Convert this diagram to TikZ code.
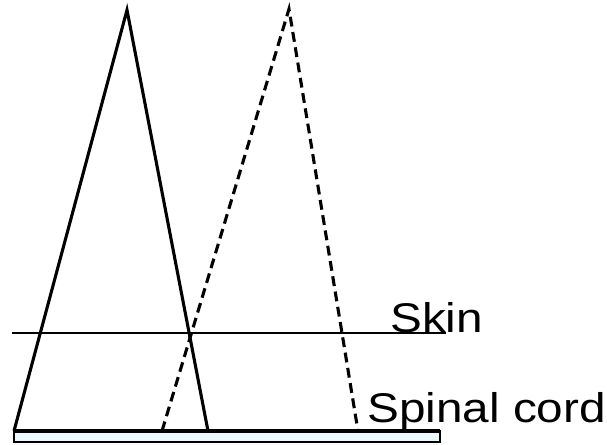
\documentclass[tikz,border=0pt]{standalone}
\usepackage{fontspec}
\setmainfont{Liberation Sans}
\usetikzlibrary{positioning}

\begin{document}
\begin{tikzpicture}[x=0.025cm,y=-0.025cm,
  leg/.style={line width=2.2pt,black},
  dleg/.style={leg,dash pattern=on 7pt off 4pt},
  lbl/.style={anchor=base west,inner sep=0pt,font=\fontsize{29.5}{34}\selectfont,xscale=1.15}]
  \useasboundingbox (0,0) rectangle (607,445);

  % spinal cord strip
  \filldraw[fill=cyan!8,draw=black,line width=1pt] (14,431) rectangle (440,442);
  \draw[line width=2.2pt] (14,431) -- (440,431);

  \coordinate (A) at (127,10);
  \coordinate (AL) at (14,431);
  \coordinate (AR) at (208,431);
  \coordinate (B) at (289,9);
  \coordinate (BL) at (162,431);
  \coordinate (BR) at (358,431);

  \draw[leg] (AL) -- (A) -- (AR);
  \draw[dleg] (BL) -- (B) -- (BR);

  % skin line
  \coordinate (S1) at (12,333);
  \coordinate (S2) at (446,333);
  \draw[line width=1.7pt] (S1) -- (S2);

  \node[lbl] (skin) at (390,333) {Skin};
  \node[lbl] (cord) at (367,423) {Spinal cord};
\end{tikzpicture}
\end{document}
